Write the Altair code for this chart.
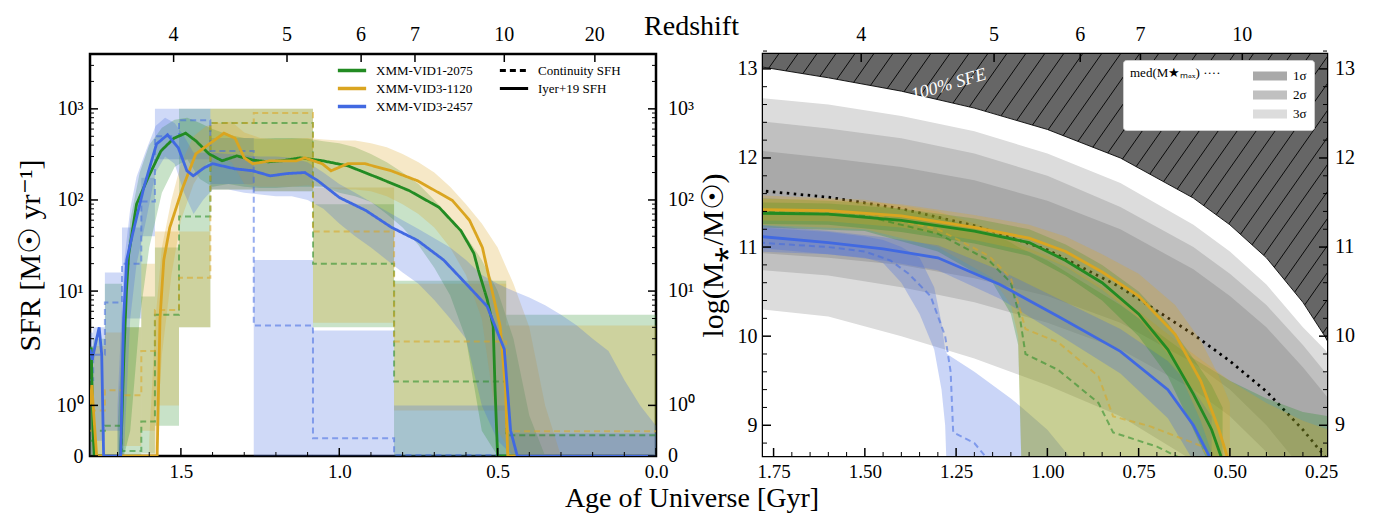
import altair as alt
import numpy as np
import pandas as pd

FONT = "Liberation Serif"
GREEN, ORANGE, BLUE = "#228B22", "#DAA520", "#4169E1"
NAMES = ["XMM-VID1-2075", "XMM-VID3-1120", "XMM-VID3-2457"]
COLORS = [GREEN, ORANGE, BLUE]
KINDS = ["Continuity SFH", "Iyer+19 SFH"]

# ---------------- redshift ticks (age of universe at z), per panel ----------------
Z_TICK_LABEL = ["4", "5", "6", "7", "10", "20"]
Z_TICK_AGE_L = [1.523, 1.165, 0.931, 0.761, 0.479, 0.193]
Z_TICK_AGE_R = [1.510, 1.146, 0.910, 0.745, 0.466]

# ---------------- LEFT PANEL: SFR histories ----------------
GREEN_IYER_AGE = [1.787, 1.783, 1.778, 1.774, 1.690, 1.680, 1.672, 1.665, 1.640, 1.604, 1.563, 1.522,
                  1.485, 1.452, 1.411, 1.370, 1.323, 1.275, 1.225, 1.178, 1.124, 1.055, 0.973, 0.877,
                  0.780, 0.685, 0.616, 0.575, 0.561, 0.533, 0.514, 0.508, 0.500, 0.000]
GREEN_IYER_SFR = [2.0, 2.4, 0.6, 0.0, 0.0, 2.0, 10.0, 25.0, 90.0, 175.0, 345.0, 476.0,
                  541.0, 443.0, 320.0, 269.0, 305.0, 275.0, 262.0, 270.0, 290.0, 270.0, 237.0, 175.0,
                  127.0, 83.0, 46.0, 26.0, 17.0, 8.1, 4.1, 1.3, 0.0, 0.0]
ORANGE_IYER_AGE = [1.787, 1.781, 1.775, 1.766, 1.575, 1.566, 1.554, 1.535, 1.494, 1.453, 1.398, 1.364,
                   1.329, 1.300, 1.273, 1.218, 1.136, 1.109, 1.054, 1.026, 0.973, 0.919, 0.836, 0.754,
                   0.643, 0.589, 0.548, 0.520, 0.492, 0.475, 0.468, 0.000]
ORANGE_IYER_SFR = [1.0, 1.4, 0.8, 0.0, 0.0, 5.0, 22.0, 50.0, 137.0, 320.0, 443.0, 541.0,
                   476.0, 290.0, 250.0, 269.0, 269.0, 290.0, 250.0, 209.0, 250.0, 250.0, 209.0, 163.0,
                   99.0, 60.0, 30.0, 11.0, 4.1, 1.3, 0.0, 0.0]
BLUE_IYER_AGE = [1.787, 1.780, 1.770, 1.758, 1.750, 1.744, 1.690, 1.681, 1.671, 1.652, 1.617, 1.577,
                 1.542, 1.508, 1.481, 1.461, 1.427, 1.400, 1.330, 1.273, 1.218, 1.164, 1.109, 1.068,
                 0.999, 0.917, 0.835, 0.753, 0.671, 0.589, 0.533, 0.479, 0.459, 0.438, 0.000]
BLUE_IYER_SFR = [2.3, 1.9, 2.6, 4.0, 2.0, 0.0, 0.0, 5.0, 22.0, 43.0, 137.0, 411.0,
                 520.0, 372.0, 209.0, 184.0, 225.0, 250.0, 220.0, 209.0, 184.0, 195.0, 200.0, 163.0,
                 106.0, 77.0, 50.0, 36.0, 22.0, 11.0, 6.8, 2.3, 0.5, 0.0, 0.0]

GREEN_BAND_AGE = [1.700, 1.680, 1.660, 1.630, 1.600, 1.560, 1.520, 1.480, 1.440, 1.400, 1.350, 1.300,
                  1.250, 1.200, 1.150, 1.100, 1.050, 1.000, 0.950, 0.900, 0.850, 0.800, 0.750, 0.700,
                  0.650, 0.600, 0.550, 0.500, 0.450, 0.400, 0.350]
GREEN_BAND_LO = [0, 0, 0.5, 5, 30, 120, 230, 280, 170, 140, 150, 140, 135, 135, 140, 140, 140, 120, 110,
                 95, 70, 50, 32, 18, 9, 3, 0.5, 0, 0, 0, 0]
GREEN_BAND_HI = [0.5, 8, 60, 200, 400, 620, 760, 800, 700, 600, 520, 480, 470, 480, 480, 470, 440, 420,
                 380, 320, 260, 200, 150, 100, 65, 40, 22, 10, 3, 0.8, 0]
ORANGE_BAND_AGE = [1.600, 1.580, 1.560, 1.530, 1.500, 1.460, 1.420, 1.380, 1.340, 1.300, 1.250, 1.200,
                   1.150, 1.100, 1.050, 1.000, 0.950, 0.900, 0.850, 0.800, 0.750, 0.700, 0.650, 0.600,
                   0.550, 0.500, 0.450, 0.400, 0.350, 0.300]
ORANGE_BAND_LO = [0, 0, 2, 15, 60, 150, 250, 300, 260, 150, 140, 140, 140, 145, 140, 130, 130, 125, 110,
                  90, 70, 50, 30, 15, 5, 0.5, 0, 0, 0, 0]
ORANGE_BAND_HI = [0.3, 5, 30, 100, 250, 500, 650, 700, 720, 550, 480, 460, 470, 480, 460, 450, 450, 420,
                  380, 320, 260, 200, 140, 90, 55, 30, 12, 4, 1, 0]
BLUE_BAND_AGE = [1.700, 1.680, 1.660, 1.640, 1.610, 1.580, 1.550, 1.520, 1.490, 1.460, 1.430, 1.400,
                 1.350, 1.300, 1.250, 1.200, 1.150, 1.100, 1.050, 1.000, 0.950, 0.900, 0.850, 0.800,
                 0.750, 0.700, 0.650, 0.600, 0.550, 0.500, 0.450, 0.400, 0.350, 0.300, 0.250, 0.200,
                 0.150, 0.100, 0.050, 0.000]
BLUE_BAND_LO = [0, 0, 5, 20, 60, 200, 300, 250, 120, 70, 100, 130, 130, 120, 115, 110, 110, 100, 80, 55,
                40, 30, 22, 16, 12, 8, 5, 3, 1, 0.3, 0, 0, 0, 0, 0, 0, 0, 0, 0, 0]
BLUE_BAND_HI = [1, 20, 80, 180, 350, 650, 800, 700, 500, 330, 330, 330, 320, 310, 300, 300, 290, 260,
                200, 150, 120, 95, 75, 60, 48, 38, 30, 22, 15, 12, 10, 8.5, 7, 5.5, 4.2, 3.0, 2.2,
                1.5, 1.0, 0.6]

# continuity (non-parametric) bins: edges in age of universe [Gyr]
BIN_EDGES = [1.787, 1.777, 1.740, 1.686, 1.625, 1.582, 1.506, 1.407, 1.270, 1.083, 0.827, 0.473, 0.000]
GREEN_CONT_LO = [0, 0, 0, 0, 0.05, 0.6, 4, 130, 125, 4, 0, 0]
GREEN_CONT_MED = [0.3, 0.5, 0.6, 0.1, 0.68, 5.5, 66, 700, 700, 20, 1.47, 0.41]
GREEN_CONT_HI = [2.5, 3, 12, 4, 8.7, 30, 1000, 1000, 1000, 90, 13, 5.5]
ORANGE_CONT_LO = [0, 0, 0, 0.2, 0.5, 1, 4, 130, 125, 4.5, 0.9, 0]
ORANGE_CONT_MED = [0.5, 0.9, 1.3, 1.2, 2.2, 6.2, 14, 700, 900, 45, 2.8, 0.49]
ORANGE_CONT_HI = [2, 2.5, 3.5, 4, 20, 45, 45, 1000, 1000, 137, 12, 4.2]
BLUE_CONT_LO = [0, 0.3, 0.5, 5, 40, 280, 280, 150, 0, 0, 0, 0]
BLUE_CONT_MED = [1.5, 2.0, 7.5, 20, 96, 500, 750, 345, 4.2, 0.35, 0.02, 0.02]
BLUE_CONT_HI = [3.5, 4.0, 16, 50, 175, 1000, 1000, 480, 22, 3.7, 1.0, 0.45]

LEFT_Y_MAJOR = [0, 1, 10, 100, 1000]
LEFT_Y_LABELS = ["0", "10⁰", "10¹", "10²", "10³"]
LEFT_Y_MINOR = [2, 3, 4, 5, 6, 7, 8, 9, 20, 30, 40, 50, 60, 70, 80, 90,
                200, 300, 400, 500, 600, 700, 800, 900, 2000, 3000]
LEFT_X_MAJOR = [0.0, 0.5, 1.0, 1.5]
LEFT_X_MINOR = [0.1, 0.2, 0.3, 0.4, 0.6, 0.7, 0.8, 0.9, 1.1, 1.2, 1.3, 1.4, 1.6, 1.7]

# ---------------- RIGHT PANEL: stellar mass ----------------
SFE_AGE = [1.80, 1.78, 1.60, 1.40, 1.20, 1.00, 0.80, 0.60, 0.50, 0.40, 0.30, 0.24, 0.22]
SFE_LOGM = [13.04, 13.02, 12.90, 12.75, 12.56, 12.32, 12.00, 11.55, 11.25, 10.88, 10.38, 10.00, 9.85]

GRAY_AGE = [1.79, 1.78, 1.60, 1.40, 1.20, 1.00, 0.80, 0.60, 0.50, 0.40, 0.30, 0.24, 0.23]
MED_MMAX = [11.64, 11.63, 11.56, 11.43, 11.24, 10.97, 10.55, 10.02, 9.72, 9.38, 8.95, 8.65, 8.60]
S3_HI = [12.68, 12.67, 12.60, 12.47, 12.30, 12.05, 11.72, 11.25, 10.95, 10.58, 10.10, 9.85, 9.80]
S2_HI = [12.42, 12.41, 12.33, 12.22, 12.05, 11.80, 11.45, 11.00, 10.70, 10.35, 9.90, 9.60, 9.55]
S1_HI = [12.09, 12.08, 12.00, 11.90, 11.75, 11.52, 11.20, 10.75, 10.45, 10.10, 9.65, 9.35, 9.30]
S1_LO = [10.94, 10.93, 10.88, 10.80, 10.65, 10.45, 10.15, 9.70, 9.40, 9.00, 8.50, 8.20, 8.15]
S2_LO = [10.75, 10.74, 10.68, 10.55, 10.38, 10.15, 9.85, 9.40, 9.10, 8.70, 8.20, 7.90, 7.85]
S3_LO = [10.31, 10.30, 10.22, 10.00, 9.75, 9.45, 9.10, 8.60, 8.30, 8.00, 7.60, 7.30, 7.25]

G_SOLID_AGE = [1.79, 1.60, 1.40, 1.20, 1.05, 0.95, 0.85, 0.75, 0.67, 0.60, 0.55, 0.52]
G_SOLID = [11.38, 11.37, 11.30, 11.18, 11.05, 10.85, 10.60, 10.25, 9.85, 9.35, 8.95, 8.60]
G_SOLID_HI = [11.50, 11.49, 11.43, 11.32, 11.20, 11.03, 10.80, 10.50, 10.15, 9.75, 9.45, 9.20]
G_SOLID_LO = [11.26, 11.25, 11.17, 11.04, 10.90, 10.68, 10.40, 10.00, 9.55, 8.95, 8.50, 8.20]
O_SOLID_AGE = [1.79, 1.60, 1.40, 1.20, 1.05, 0.95, 0.85, 0.75, 0.65, 0.58, 0.53, 0.50]
O_SOLID = [11.42, 11.41, 11.35, 11.22, 11.10, 10.95, 10.72, 10.45, 10.02, 9.50, 8.95, 8.55]
O_SOLID_HI = [11.54, 11.53, 11.48, 11.36, 11.25, 11.12, 10.92, 10.70, 10.35, 9.95, 9.55, 9.25]
O_SOLID_LO = [11.30, 11.29, 11.22, 11.08, 10.95, 10.78, 10.52, 10.20, 9.70, 9.05, 8.45, 8.10]
B_SOLID_AGE = [1.79, 1.60, 1.45, 1.30, 1.13, 0.97, 0.80, 0.67, 0.60, 0.55]
B_SOLID = [11.12, 11.05, 10.98, 10.88, 10.58, 10.22, 9.83, 9.40, 9.00, 8.60]
B_SOLID_HI = [11.25, 11.18, 11.11, 11.02, 10.74, 10.42, 10.08, 9.72, 9.40, 9.10]
B_SOLID_LO = [10.99, 10.92, 10.85, 10.74, 10.42, 10.02, 9.58, 9.08, 8.60, 8.10]

B_DASH_AGE = [1.79, 1.60, 1.50, 1.43, 1.38, 1.32, 1.28, 1.265, 1.258, 1.20, 1.16]
B_DASH = [11.05, 11.00, 10.95, 10.85, 10.70, 10.45, 10.00, 9.60, 8.92, 8.80, 8.60]
B_DASH_BAND_AGE = [1.79, 1.60, 1.50, 1.45, 1.40, 1.35, 1.31, 1.29, 1.28, 1.275, 1.20, 1.10, 1.07, 1.00, 0.94, 0.90]
B_DASH_HI = [11.22, 11.17, 11.12, 11.08, 11.00, 10.88, 10.55, 10.15, 9.85, 9.80, 9.60, 9.30, 9.20, 8.95, 8.65, 8.50]
B_DASH_LO = [10.95, 10.92, 10.88, 10.82, 10.60, 10.25, 9.85, 9.40, 9.00, 8.40, 8.40, 8.40, 8.40, 8.40, 8.40, 8.40]
G_DASH_AGE = [1.79, 1.50, 1.30, 1.16, 1.10, 1.075, 1.06, 0.97, 0.86, 0.82, 0.70, 0.62]
G_DASH = [11.40, 11.35, 11.15, 10.85, 10.60, 10.20, 9.80, 9.62, 9.25, 8.92, 8.76, 8.60]
O_DASH_AGE = [1.79, 1.50, 1.30, 1.16, 1.10, 1.075, 1.06, 0.97, 0.86, 0.82, 0.72, 0.58, 0.55]
O_DASH = [11.42, 11.38, 11.20, 10.90, 10.65, 10.30, 10.08, 9.93, 9.55, 9.10, 8.99, 8.77, 8.60]
GO_DASH_BAND_AGE = [1.79, 1.50, 1.30, 1.15, 1.10, 1.08, 1.07, 1.00, 0.90, 0.80, 0.75, 0.70, 0.60, 0.50, 0.40, 0.30, 0.23]
G_DASH_HI = [11.55, 11.50, 11.35, 11.15, 11.05, 11.00, 10.98, 10.85, 10.60, 10.35, 10.20, 10.05, 9.75, 9.50, 9.30, 9.15, 9.10]
G_DASH_LO = [11.22, 11.18, 10.95, 10.60, 10.25, 9.90, 8.40, 8.40, 8.40, 8.40, 8.40, 8.40, 8.40, 8.40, 8.40, 8.40, 8.40]
O_DASH_HI = [11.58, 11.53, 11.40, 11.20, 11.10, 11.05, 11.02, 10.90, 10.68, 10.42, 10.28, 10.12, 9.80, 9.50, 9.25, 9.05, 8.95]
O_DASH_LO = [11.25, 11.20, 11.00, 10.65, 10.35, 10.00, 8.40, 8.40, 8.40, 8.40, 8.40, 8.40, 8.40, 8.40, 8.40, 8.40, 8.40]

SFE_TEXT = pd.DataFrame({"age": [1.27], "v": [12.82], "t": ["100% SFE"]})
SIGMA_LABELS = ["1σ", "2σ", "3σ"]
SIGMA_COLORS = ["#a9a9a9", "#c0c0c0", "#dcdcdc"]

RIGHT_Y_MAJOR = [9, 10, 11, 12, 13]
RIGHT_Y_MINOR = [8.8, 9.2, 9.4, 9.6, 9.8, 10.2, 10.4, 10.6, 10.8, 11.2, 11.4, 11.6, 11.8,
                 12.2, 12.4, 12.6, 12.8, 13.2]
RIGHT_X_MAJOR = [0.25, 0.5, 0.75, 1.0, 1.25, 1.5, 1.75]
RIGHT_X_MINOR = [0.3, 0.35, 0.4, 0.45, 0.55, 0.6, 0.65, 0.7, 0.8, 0.85, 0.9, 0.95, 1.05, 1.1,
                 1.15, 1.2, 1.3, 1.35, 1.4, 1.45, 1.55, 1.6, 1.65, 1.7]

# ---------------- geometry / helpers ----------------
W_L, W_R, H = 566, 564, 402
LT, LS = 2.0, 1.1111  # symlog-like: linear below LT
Y_TOP_R, Y_BOT_R = 13.167, 8.655


def tpos(v):
    return v * LS / LT if v <= LT else LS + np.log10(v / LT)


def tcalc(f):
    return f"datum.{f} <= {LT} ? datum.{f} * {LS / LT} : {LS} + log(datum.{f} / {LT}) / LN10"


def label_expr(pos, labels):
    pairs = sorted(zip(pos, labels))
    expr = f"'{pairs[-1][1]}'"
    for i in range(len(pairs) - 2, -1, -1):
        mid = (pairs[i][0] + pairs[i + 1][0]) / 2
        expr = f"datum.value < {mid:.5f} ? '{pairs[i][1]}' : ({expr})"
    return expr


XL = alt.Scale(domain=[0, 1.787], reverse=True, nice=False, zero=False)
YL = alt.Scale(domain=[0, tpos(4000)], nice=False, zero=False)
XR = alt.Scale(domain=[0.234, 1.779], reverse=True, nice=False, zero=False)
YR = alt.Scale(domain=[Y_BOT_R, Y_TOP_R], nice=False, zero=False)

LMAJ_T = [tpos(v) for v in LEFT_Y_MAJOR]
AX_L_Y = alt.Axis(orient="left", values=LMAJ_T, labelExpr=label_expr(LMAJ_T, LEFT_Y_LABELS),
                  labelPadding=7, title="SFR [M☉ yr⁻¹]", titleX=-60, titleY=H / 2, titleAngle=270,
                  titleAlign="center", titleBaseline="middle")
AX_L_X = alt.Axis(orient="bottom", values=LEFT_X_MAJOR, format=".1f", labelPadding=6, labelFontSize=19,
                  labelFlush=False, labelOverlap=False,
                  title="Age of Universe [Gyr]", titleX=601.5, titleY=50, titleAlign="center",
                  titleBaseline="alphabetic", titleAngle=0, titleFontSize=28)
AX_R_Y = alt.Axis(orient="left", values=RIGHT_Y_MAJOR, format="d", labelPadding=6,
                  title="log(M⁎/M☉)", titleX=-50, titleY=H / 2, titleAngle=270,
                  titleAlign="center", titleBaseline="middle")
AX_R_X = alt.Axis(orient="bottom", values=RIGHT_X_MAJOR, format=".2f", labelPadding=6, labelFontSize=19,
                  labelFlush=False, labelOverlap=False, title=None)


def XLf(f):
    return alt.X(f, scale=XL, axis=AX_L_X)


def YLf(f):
    return alt.Y(f, scale=YL, axis=AX_L_Y, stack=None)


def XRf(f):
    return alt.X(f, scale=XR, axis=AX_R_X)


def YRf(f):
    return alt.Y(f, scale=YR, axis=AX_R_Y, stack=None)


name_scale = alt.Scale(domain=NAMES, range=COLORS)
fill_enc = alt.Fill("gal:N", scale=name_scale, legend=None)
stroke_leg = alt.Legend(orient="none", legendX=246, legendY=8, title=None, symbolType="stroke",
                        symbolSize=800, symbolStrokeWidth=3.5, symbolOpacity=1, clipHeight=17,
                        labelFont=FONT, labelFontSize=13, labelOffset=8, rowPadding=1)
dash_leg = alt.Legend(orient="none", legendX=408, legendY=8, title=None, symbolType="stroke",
                      symbolSize=800, symbolStrokeWidth=3, symbolStrokeColor="black", symbolOpacity=1,
                      clipHeight=17, labelFont=FONT, labelFontSize=13, labelOffset=8, rowPadding=1)
stroke_enc = alt.Stroke("name:N", scale=name_scale, legend=stroke_leg)
dash_enc = alt.StrokeDash("kind:N", scale=alt.Scale(domain=KINDS, range=[[6, 4], [1, 0]]), legend=dash_leg)

# ---------------- build left data ----------------
iyer = [(GREEN_IYER_AGE, GREEN_IYER_SFR), (ORANGE_IYER_AGE, ORANGE_IYER_SFR), (BLUE_IYER_AGE, BLUE_IYER_SFR)]
bands = [(GREEN_BAND_AGE, GREEN_BAND_LO, GREEN_BAND_HI), (ORANGE_BAND_AGE, ORANGE_BAND_LO, ORANGE_BAND_HI),
         (BLUE_BAND_AGE, BLUE_BAND_LO, BLUE_BAND_HI)]
conts = [(GREEN_CONT_LO, GREEN_CONT_MED, GREEN_CONT_HI), (ORANGE_CONT_LO, ORANGE_CONT_MED, ORANGE_CONT_HI),
         (BLUE_CONT_LO, BLUE_CONT_MED, BLUE_CONT_HI)]

rows_line, rows_band, rows_rect, rows_step = [], [], [], []
for name, (ages, vals), (bage, blo, bhi), (clo, cmed, chi) in zip(NAMES, iyer, bands, conts):
    for i, (a, v) in enumerate(zip(ages, vals)):
        rows_line.append({"name": name, "age": a, "v": v, "kind": KINDS[1], "ord": i})
    for a, lo, hi in zip(bage, blo, bhi):
        rows_band.append({"gal": name, "age": a, "lo": lo, "hi": hi})
    for i in range(len(BIN_EDGES) - 1):
        rows_rect.append({"gal": name, "a0": BIN_EDGES[i], "a1": BIN_EDGES[i + 1], "lo": clo[i], "hi": chi[i]})
        rows_step.append({"name": name, "age": BIN_EDGES[i], "v": cmed[i], "kind": KINDS[0], "ord": 2 * i})
        rows_step.append({"name": name, "age": BIN_EDGES[i + 1], "v": cmed[i], "kind": KINDS[0], "ord": 2 * i + 1})

df_line, df_band = pd.DataFrame(rows_line), pd.DataFrame(rows_band)
df_rect, df_step = pd.DataFrame(rows_rect), pd.DataFrame(rows_step)

l_rect = alt.Chart(df_rect).mark_rect(opacity=0.25, clip=True).transform_calculate(
    tlo=tcalc("lo"), thi=tcalc("hi")).encode(
    x=XLf("a0:Q"), x2="a1:Q", y=YLf("tlo:Q"), y2="thi:Q", fill=fill_enc)
l_band = alt.Chart(df_band).mark_area(opacity=0.25, clip=True).transform_calculate(
    tlo=tcalc("lo"), thi=tcalc("hi")).encode(
    x=XLf("age:Q"), y=YLf("tlo:Q"), y2="thi:Q", fill=fill_enc)
l_step = alt.Chart(df_step).mark_line(strokeWidth=2, opacity=0.55, clip=True).transform_calculate(
    tv=tcalc("v")).encode(
    x=XLf("age:Q"), y=YLf("tv:Q"), stroke=stroke_enc, strokeDash=dash_enc, order="ord:Q")
l_line = alt.Chart(df_line).mark_line(strokeWidth=2.8, clip=True).transform_calculate(
    tv=tcalc("v")).encode(
    x=XLf("age:Q"), y=YLf("tv:Q"), stroke=stroke_enc, strokeDash=dash_enc, order="ord:Q")


def yticks(values, x0, x1, sw, yf, calc=None):
    df = pd.DataFrame({"v": values})
    ch = alt.Chart(df).mark_rule(color="black", strokeWidth=sw)
    field = "v:Q"
    if calc:
        ch = ch.transform_calculate(ty=calc("v"))
        field = "ty:Q"
    return ch.encode(y=yf(field), x=alt.value(x0), x2=alt.value(x1))


def xticks(values, y0, y1, sw, xf):
    df = pd.DataFrame({"v": values})
    return alt.Chart(df).mark_rule(color="black", strokeWidth=sw).encode(
        x=xf("v:Q"), y=alt.value(y0), y2=alt.value(y1))


def top_labels(ages, labels, xf):
    df = pd.DataFrame({"age": ages, "lab": labels})
    return alt.Chart(df).mark_text(font=FONT, fontSize=20, baseline="bottom", align="center",
                                   color="black").encode(x=xf("age:Q"), y=alt.value(-9), text="lab:N")


def right_labels(values, labels, yf, xpos, calc=None):
    df = pd.DataFrame({"v": values, "lab": labels})
    ch = alt.Chart(df).mark_text(font=FONT, fontSize=20, baseline="middle", align="left", color="black")
    field = "v:Q"
    if calc:
        ch = ch.transform_calculate(ty=calc("v"))
        field = "ty:Q"
    return ch.encode(y=yf(field), x=alt.value(xpos), text="lab:N")


redshift_title = alt.Chart(pd.DataFrame({"t": ["Redshift"]})).mark_text(
    font=FONT, fontSize=28, baseline="alphabetic", align="center", color="black").encode(
    x=alt.value(601.5), y=alt.value(-19), text="t:N")

left = alt.layer(
    l_rect, l_band, l_step, l_line,
    xticks(LEFT_X_MAJOR, H, H - 8, 1.5, XLf),
    xticks(LEFT_X_MINOR, H, H - 4, 1.0, XLf),
    xticks(Z_TICK_AGE_L, 0, 8, 1.5, XLf),
    yticks(LEFT_Y_MAJOR, 0, 8, 1.5, YLf, calc=tcalc),
    yticks(LEFT_Y_MINOR, 0, 4, 1.0, YLf, calc=tcalc),
    yticks(LEFT_Y_MAJOR, W_L, W_L - 8, 1.5, YLf, calc=tcalc),
    yticks(LEFT_Y_MINOR, W_L, W_L - 4, 1.0, YLf, calc=tcalc),
    top_labels(Z_TICK_AGE_L, Z_TICK_LABEL, XLf),
    right_labels(LEFT_Y_MAJOR, LEFT_Y_LABELS, YLf, W_L + 12, calc=tcalc),
    redshift_title,
).properties(width=W_L, height=H)

# ---------------- right panel ----------------
df_sfe = pd.DataFrame({"age": SFE_AGE, "v": SFE_LOGM, "top": Y_TOP_R + 0.2, "bot": Y_BOT_R - 0.2})
HATCH_TOP = np.round(np.arange(-0.50, 1.82, 0.052), 3)  # hatch pattern (style only)
df_hatch = pd.DataFrame({"a0": HATCH_TOP, "a1": HATCH_TOP + 0.774, "y0": Y_TOP_R, "y1": Y_BOT_R})

r_dark = alt.Chart(df_sfe).mark_area(color="#666666", clip=True).encode(
    x=XRf("age:Q"), y=YRf("v:Q"), y2="top:Q")
r_hatch = alt.Chart(df_hatch).mark_rule(color="black", strokeWidth=0.9, clip=True).encode(
    x=XRf("a0:Q"), x2="a1:Q", y=YRf("y0:Q"), y2="y1:Q")
r_white = alt.Chart(df_sfe).mark_area(color="white", clip=True).encode(
    x=XRf("age:Q"), y=YRf("v:Q"), y2="bot:Q")
r_sfe_edge = alt.Chart(df_sfe).mark_line(color="black", strokeWidth=0.9, clip=True).encode(
    x=XRf("age:Q"), y=YRf("v:Q"))

sig_leg = alt.Legend(orient="none", legendX=360, legendY=6, title="med(M★ₘₐₓ)    ····", titleOrient="left",
                     titleAnchor="start", titleBaseline="top",
                     titleFont=FONT, titleFontSize=13, titleFontWeight="normal", titlePadding=22,
                     symbolType="M-1,-0.27L1,-0.27L1,0.27L-1,0.27Z", symbolSize=1156, symbolStrokeWidth=0,
                     labelFont=FONT, labelFontSize=13, labelOffset=6, fillColor="white", strokeColor="#cccccc",
                     padding=7, cornerRadius=3, clipHeight=18, rowPadding=1)
sig_scale = alt.Scale(domain=SIGMA_LABELS, range=SIGMA_COLORS)
gray_layers = []
for lab, lo, hi in [("3σ", S3_LO, S3_HI), ("2σ", S2_LO, S2_HI), ("1σ", S1_LO, S1_HI)]:
    d = pd.DataFrame({"age": GRAY_AGE, "lo": lo, "hi": hi, "sig": lab})
    gray_layers.append(alt.Chart(d).mark_area(clip=True, opacity=1).encode(
        x=XRf("age:Q"), y=YRf("lo:Q"), y2="hi:Q",
        color=alt.Color("sig:N", scale=sig_scale, legend=sig_leg)))

r_med = alt.Chart(pd.DataFrame({"age": GRAY_AGE, "v": MED_MMAX})).mark_line(
    color="black", strokeDash=[2.5, 4.5], strokeWidth=2.8, strokeCap="butt", clip=True).encode(
    x=XRf("age:Q"), y=YRf("v:Q"))


def r_area(ages, lo, hi, color, op=0.28):
    d = pd.DataFrame({"age": ages, "lo": lo, "hi": hi})
    return alt.Chart(d).mark_area(color=color, opacity=op, clip=True).encode(
        x=XRf("age:Q"), y=YRf("lo:Q"), y2="hi:Q")


def r_line(ages, vals, color, dash=None, op=1.0, sw=2.8):
    d = pd.DataFrame({"age": ages, "v": vals})
    kw = dict(color=color, opacity=op, strokeWidth=sw, clip=True)
    if dash:
        kw["strokeDash"] = dash
    return alt.Chart(d).mark_line(**kw).encode(x=XRf("age:Q"), y=YRf("v:Q"))


r_text = alt.Chart(SFE_TEXT).mark_text(color="white", font=FONT, fontSize=18, angle=344,
                                         fontStyle="italic").encode(
    x=XRf("age:Q"), y=YRf("v:Q"), text="t:N")

right = alt.layer(
    r_dark, r_hatch, r_white, r_sfe_edge, *gray_layers, r_med,
    r_area(B_DASH_BAND_AGE, B_DASH_LO, B_DASH_HI, BLUE),
    r_area(GO_DASH_BAND_AGE, G_DASH_LO, G_DASH_HI, GREEN),
    r_area(GO_DASH_BAND_AGE, O_DASH_LO, O_DASH_HI, ORANGE),
    r_area(B_SOLID_AGE, B_SOLID_LO, B_SOLID_HI, BLUE),
    r_area(G_SOLID_AGE, G_SOLID_LO, G_SOLID_HI, GREEN),
    r_area(O_SOLID_AGE, O_SOLID_LO, O_SOLID_HI, ORANGE),
    r_line(B_DASH_AGE, B_DASH, BLUE, dash=[6, 4], op=0.55, sw=2),
    r_line(G_DASH_AGE, G_DASH, GREEN, dash=[6, 4], op=0.55, sw=2),
    r_line(O_DASH_AGE, O_DASH, ORANGE, dash=[6, 4], op=0.55, sw=2),
    r_line(B_SOLID_AGE, B_SOLID, BLUE),
    r_line(G_SOLID_AGE, G_SOLID, GREEN),
    r_line(O_SOLID_AGE, O_SOLID, ORANGE),
    r_text,
    xticks(RIGHT_X_MAJOR, H, H - 8, 1.5, XRf),
    xticks(RIGHT_X_MINOR, H, H - 4, 1.0, XRf),
    xticks(Z_TICK_AGE_R, 0, 8, 1.5, XRf),
    yticks(RIGHT_Y_MAJOR, 0, 8, 1.5, YRf),
    yticks(RIGHT_Y_MINOR, 0, 4, 1.0, YRf),
    yticks(RIGHT_Y_MAJOR, W_R, W_R - 8, 1.5, YRf),
    yticks(RIGHT_Y_MINOR, W_R, W_R - 4, 1.0, YRf),
    top_labels(Z_TICK_AGE_R, Z_TICK_LABEL[:5], XRf),
    right_labels(RIGHT_Y_MAJOR, [str(v) for v in RIGHT_Y_MAJOR], YRf, W_R + 8),
).properties(width=W_R, height=H)

chart = alt.hconcat(left, right, spacing=107, bounds="flush").resolve_scale(
    color="independent", fill="independent"
).resolve_legend(color="independent", fill="independent"
).properties(
    padding={"left": 5, "top": 3, "right": 4, "bottom": 0}
).configure_view(stroke="black", strokeWidth=2.5).configure_axis(
    domain=False, ticks=False, grid=False, labelFont=FONT, titleFont=FONT, labelColor="black",
    titleColor="black", titleFontWeight="normal", labelFontSize=20, titleFontSize=30)

chart.save("out.html", embed_options={"renderer": "svg", "actions": False})
